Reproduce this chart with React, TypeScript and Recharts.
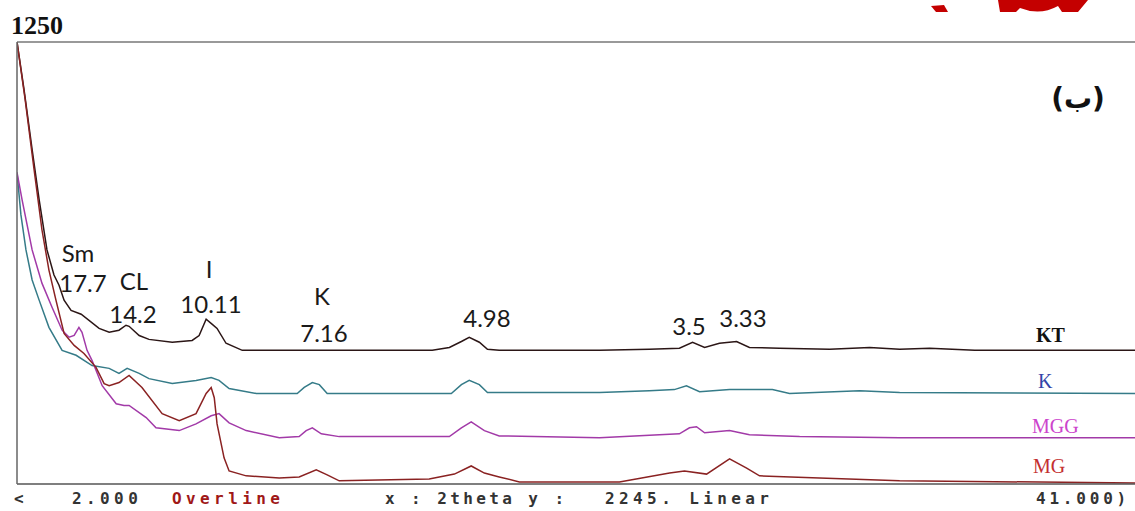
import {LineChart, Line, XAxis, YAxis} from "recharts";

// 2theta (deg) and counts
const ktTheta = [2.00, 2.25, 2.54, 2.79, 3.07, 3.32, 3.50, 3.68, 3.93, 4.29, 4.93, 5.29, 5.64, 5.89, 6.00, 6.36, 6.71, 7.54, 8.25, 8.50, 8.75, 8.96, 9.14, 9.46, 10.04, 12.07, 13.86, 16.82, 17.43, 17.86, 18.14, 18.50, 18.79, 19.21, 22.79, 24.57, 25.64, 26.11, 26.54, 27.07, 27.68, 28.14, 29.21, 31.0, 32.43, 33.5, 34.57, 36.18, 41.9];
const ktCounts = [1250, 1116, 946, 804, 662, 591, 562, 520, 491, 480, 440, 429, 435, 449, 446, 420, 409, 401, 406, 420, 466, 452, 440, 398, 378, 378, 378, 378, 386, 403, 415, 401, 381, 378, 378, 381, 384, 401, 386, 398, 403, 386, 384, 381, 386, 381, 384, 378, 378];

const kTheta = [2.00, 2.14, 2.32, 2.54, 2.79, 3.14, 3.61, 4.11, 4.68, 5.29, 5.64, 5.93, 6.36, 6.71, 7.54, 8.39, 8.93, 9.21, 9.57, 10.54, 12.0, 12.25, 12.54, 12.79, 13.07, 17.5, 17.86, 18.14, 18.5, 18.79, 22.79, 24.57, 25.46, 25.89, 26.36, 27.43, 28.96, 29.57, 32.07, 33.5, 41.9];
const kCounts = [881, 761, 662, 577, 520, 443, 378, 364, 335, 327, 313, 327, 313, 298, 284, 293, 301, 293, 270, 256, 256, 273, 287, 281, 256, 256, 281, 293, 281, 259, 259, 264, 267, 278, 261, 267, 267, 256, 264, 259, 256];

const mggTheta = [2.00, 2.18, 2.54, 2.89, 3.25, 3.61, 3.86, 4.04, 4.21, 4.32, 4.50, 4.68, 5.04, 5.54, 5.82, 6.00, 6.61, 6.96, 7.79, 8.39, 8.93, 9.21, 9.57, 10.18, 11.36, 12.07, 12.32, 12.54, 12.86, 13.5, 17.43, 17.86, 18.21, 18.68, 19.21, 22.79, 25.64, 26.0, 26.25, 26.54, 27.43, 28.14, 29.93, 33.5, 41.9];
const mggCounts = [881, 804, 662, 568, 500, 435, 415, 420, 443, 429, 378, 349, 278, 227, 222, 222, 188, 159, 151, 170, 193, 199, 173, 151, 131, 134, 151, 159, 142, 134, 134, 159, 176, 151, 136, 131, 142, 159, 162, 145, 151, 139, 134, 131, 131];

const mgTheta = [2.0, 2.29, 2.61, 2.89, 3.14, 3.39, 3.68, 4.04, 4.39, 4.82, 5.11, 5.29, 5.64, 6.0, 6.46, 7.18, 7.79, 8.39, 8.75, 8.93, 9.04, 9.14, 9.39, 9.57, 10.18, 11.36, 12.07, 12.68, 13.07, 13.5, 16.71, 17.61, 18.21, 18.68, 19.21, 19.93, 23.5, 25.29, 25.82, 26.61, 27.43, 28.04, 28.5, 30.64, 33.5, 41.9];
const mgCounts = [1250, 1088, 889, 719, 605, 520, 426, 392, 369, 330, 284, 278, 287, 307, 273, 199, 179, 199, 256, 273, 244, 170, 74, 37, 23, 17, 20, 40, 26, 9, 14, 28, 51, 31, 20, 6, 6, 31, 37, 28, 71, 45, 23, 17, 9, 3];

const seriesNames = ["KT", "K", "MGG", "MG"];
const xTicks = [6, 10, 14, 18, 22, 26, 30, 34, 38];
const yTicks = [0, 125, 250, 375, 500, 625, 750, 875, 1000, 1125, 1250];
const peakNames = ["Sm", "CL", "I", "K"];
const dSpacings = ["17.7", "14.2", "10.11", "7.16", "4.98", "3.5", "3.33"];
const statusTexts = ["<", "2.000", "Overline", "x : 2theta y :", "2245. Linear", "41.000)"];

const zip = (xs: number[], ys: number[]) => xs.map((x, i) => ({x, y: ys[i]}));

const series = [
    {name: seriesNames[0], data: zip(ktTheta, ktCounts), stroke: "#2b1616"},
    {name: seriesNames[1], data: zip(kTheta, kCounts), stroke: "#357b88"},
    {name: seriesNames[2], data: zip(mggTheta, mggCounts), stroke: "#a23aa8"},
    {name: seriesNames[3], data: zip(mgTheta, mgCounts), stroke: "#8a2222"},
];

const annoFont = "Lato, 'Open Sans', sans-serif";
const monoFont = "'DejaVu Sans Mono', 'Liberation Mono', monospace";

export default function App() {
    return (
        <div style={{position: "fixed", left: 0, top: 0, width: 1135, height: 511, overflow: "hidden", background: "#fff"}}>
            <LineChart width={1135} height={511} margin={{top: 42, right: 0, bottom: 27, left: 17}}>
                <XAxis xAxisId={0} dataKey="x" type="number" domain={[2, 41.9]} ticks={xTicks} allowDataOverflow
                       orientation="bottom" height={1} mirror tick={false} tickSize={4}
                       stroke="#555" strokeWidth={1.5} />
                <XAxis xAxisId="top" dataKey="x" type="number" domain={[2, 41.9]} ticks={xTicks} allowDataOverflow
                       orientation="top" height={1} mirror tick={false} tickSize={4}
                       stroke="#777" strokeWidth={1.5} />
                <YAxis dataKey="y" type="number" domain={[0, 1250]} ticks={yTicks} allowDataOverflow
                       width={1} mirror tick={false} tickSize={4} stroke="#666" strokeWidth={1.5} />
                {series.map(s => (
                    <Line key={s.name} data={s.data} dataKey="y" name={s.name} type="linear"
                          stroke={s.stroke} strokeWidth={1.5} dot={false} isAnimationActive={false} />
                ))}
            </LineChart>
            <svg width={1135} height={511} style={{position: "absolute", left: 0, top: 0, pointerEvents: "none"}}>
                {/* cut-off red logo at the top edge */}
                <polygon points="931,6 944,5 948,12 936,12" fill="#c40000" />
                <path d="M998,0 H1088 L1078,12 H1062 L1058,6 Q1040,16 1020,8 L1016,12 H1000 Z" fill="#c40000" />

                <text x={11} y={34} fontFamily="'Liberation Serif', serif" fontWeight="bold" fontSize={26} fill="#111">1250</text>
                <text x={1078} y={108} textAnchor="middle" fontFamily="'DejaVu Sans', sans-serif" fontWeight="bold" fontSize={28} fill="#111">(ب)</text>

                <g fontFamily={annoFont} fontSize={24} fill="#1a1a1a" textAnchor="middle">
                    <text x={78} y={262}>{peakNames[0]}</text>
                    <text x={83} y={292}>{dSpacings[0]}</text>
                    <text x={134} y={290}>{peakNames[1]}</text>
                    <text x={133} y={323}>{dSpacings[1]}</text>
                    <text x={209} y={278}>{peakNames[2]}</text>
                    <text x={211} y={313}>{dSpacings[2]}</text>
                    <text x={322} y={305}>{peakNames[3]}</text>
                    <text x={324} y={342}>{dSpacings[3]}</text>
                    <text x={487} y={327}>{dSpacings[4]}</text>
                    <text x={689} y={335}>{dSpacings[5]}</text>
                    <text x={743} y={327}>{dSpacings[6]}</text>
                </g>

                <g fontFamily="'Liberation Serif', serif" fontSize={20}>
                    <text x={1036} y={342} fontWeight="bold" fill="#111">{seriesNames[0]}</text>
                    <text x={1038} y={388} fill="#3344a8">{seriesNames[1]}</text>
                    <text x={1032} y={433} fill="#cc44cc">{seriesNames[2]}</text>
                    <text x={1033} y={473} fill="#c43030">{seriesNames[3]}</text>
                </g>

                <g fontFamily={monoFont} fontWeight="bold" fontSize={16} letterSpacing={4.4} fill="#333">
                    <text x={14} y={504}>{statusTexts[0]}</text>
                    <text x={72} y={504}>{statusTexts[1]}</text>
                    <text x={172} y={504} fill="#a01818">{statusTexts[2]}</text>
                    <text x={385} y={504} letterSpacing={3.4}>{statusTexts[3]}</text>
                    <text x={605} y={504}>{statusTexts[4]}</text>
                    <text x={1036} y={504} letterSpacing={3.8}>{statusTexts[5]}</text>
                </g>
            </svg>
        </div>
    );
}
